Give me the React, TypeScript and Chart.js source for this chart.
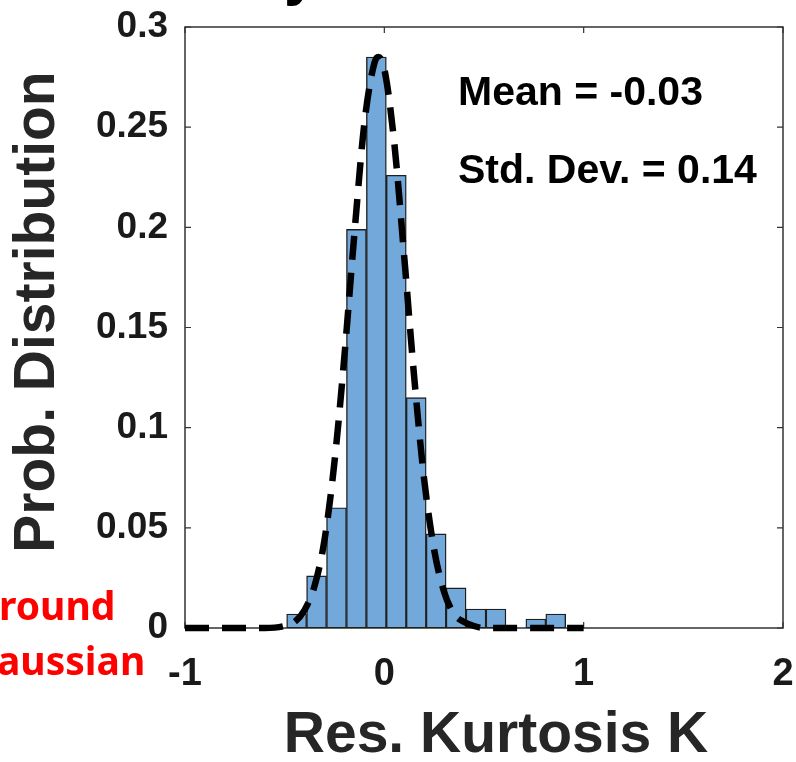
import React, { useEffect, useRef } from 'react';
import { Chart, registerables } from 'chart.js';

Chart.register(...registerables);

// Histogram bins (centres of 0.1-wide bins) and their probability heights
const binCenters = [-0.44, -0.34, -0.24, -0.14, -0.04, 0.06, 0.16, 0.26, 0.36, 0.46, 0.56, 0.76, 0.86];
const binHeights = [0.007, 0.026, 0.06, 0.199, 0.285, 0.226, 0.115, 0.047, 0.02, 0.0095, 0.0095, 0.0045, 0.007];

// Dashed Gaussian fit curve
const fitX = [-1, -0.9, -0.8, -0.7, -0.6, -0.5, -0.45, -0.4, -0.35, -0.3, -0.25, -0.2, -0.15, -0.1, -0.05, -0.03, 0, 0.05, 0.1, 0.15, 0.2, 0.25, 0.3, 0.35, 0.4, 0.45, 0.5, 0.6, 0.7, 0.8, 0.9, 1.0];
const fitY = [0, 0, 0, 0, 0, 0.001, 0.003, 0.009, 0.021, 0.044, 0.083, 0.136, 0.197, 0.252, 0.282, 0.285, 0.279, 0.242, 0.185, 0.125, 0.074, 0.039, 0.018, 0.007, 0.003, 0.001, 0, 0, 0, 0, 0, 0];

// Axis ticks
const xTickValues = [-1, 0, 1, 2];
const xTickLabels = ['-1', '0', '1', '2'];
const yTickValues = [0, 0.05, 0.1, 0.15, 0.2, 0.25, 0.3];
const yTickLabels = ['0', '0.05', '0.1', '0.15', '0.2', '0.25', '0.3'];

// Texts
const xTitle = 'Res. Kurtosis K';
const yTitle = 'Prob. Distribution';
const statLines = ['Mean = -0.03', 'Std. Dev. = 0.14'];
const sideNote = ['round', 'aussian'];
const titleFragment = 'y';

const FONT = "'Liberation Sans', Arial, Helvetica, sans-serif";
const AXIS_COLOR = '#333333';
const TEXT_COLOR = '#1a1a1a';

const decorPlugin = {
  id: 'decor',
  beforeDatasetsDraw(chart: any) {
    const { ctx, chartArea } = chart;
    const { left, right, top, bottom } = chartArea;
    const xs = chart.scales.x;
    const ys = chart.scales.y;
    ctx.save();
    ctx.strokeStyle = AXIS_COLOR;
    ctx.lineWidth = 1.5;
    ctx.strokeRect(left, top, right - left, bottom - top);
    ctx.lineWidth = 1.2;
    const tl = 6;
    ctx.beginPath();
    xTickValues.forEach((v) => {
      const px = xs.getPixelForValue(v);
      ctx.moveTo(px, bottom);
      ctx.lineTo(px, bottom - tl);
      ctx.moveTo(px, top);
      ctx.lineTo(px, top + tl);
    });
    yTickValues.forEach((v) => {
      const py = ys.getPixelForValue(v);
      ctx.moveTo(left, py);
      ctx.lineTo(left + tl, py);
      ctx.moveTo(right, py);
      ctx.lineTo(right - tl, py);
    });
    ctx.stroke();
    ctx.restore();
  },
  afterDraw(chart: any) {
    const { ctx, chartArea } = chart;
    const { left, top, bottom } = chartArea;
    ctx.save();
    // stats annotation
    ctx.fillStyle = '#000000';
    ctx.font = `bold 41px ${FONT}`;
    ctx.textAlign = 'left';
    ctx.textBaseline = 'alphabetic';
    ctx.fillText(statLines[0], left + 273, top + 78);
    ctx.fillText(statLines[1], left + 273, top + 156);

    // axis titles
    ctx.fillStyle = '#262626';
    ctx.font = `bold 57px ${FONT}`;
    ctx.textAlign = 'center';
    ctx.textBaseline = 'middle';
    ctx.fillText(xTitle, 496, 736);
    ctx.save();
    ctx.translate(38, 312);
    ctx.rotate(-Math.PI / 2);
    ctx.fillText(yTitle, 0, 0);
    ctx.restore();

    // cropped title fragment at the top
    ctx.fillStyle = '#000000';
    ctx.font = `bold 60px ${FONT}`;
    ctx.textAlign = 'left';
    ctx.textBaseline = 'alphabetic';
    ctx.fillText(titleFragment, 284, -6);

    // red side note (cropped)
    ctx.fillStyle = '#ff0000';
    ctx.font = `bold 39px 'Noto Sans', 'Open Sans', sans-serif`;
    ctx.textAlign = 'left';
    ctx.fillText(sideNote[0], -1, bottom - 8);
    ctx.fillText(sideNote[1], -3, bottom + 47);
    ctx.restore();
  },
};

export default function App() {
  const canvasRef = useRef<HTMLCanvasElement | null>(null);

  useEffect(() => {
    const canvas = canvasRef.current;
    if (!canvas) return;
    const chart = new Chart(canvas, {
      type: 'bar',
      data: {
        datasets: [
          {
            type: 'line',
            data: fitX.map((x, i) => ({ x, y: fitY[i] })),
            borderColor: '#000000',
            borderWidth: 6.5,
            borderDash: [24, 13],
            borderCapStyle: 'butt',
            pointRadius: 0,
            fill: false,
            cubicInterpolationMode: 'monotone',
            clip: false,
            order: 0,
          } as any,
          {
            type: 'bar',
            data: binCenters.map((x, i) => ({ x, y: binHeights[i] })),
            backgroundColor: '#72A9DA',
            borderColor: '#1f1f1f',
            borderWidth: 1.4,
            borderSkipped: false,
            barPercentage: 1,
            categoryPercentage: 1,
            order: 1,
          } as any,
        ],
      },
      options: {
        responsive: false,
        maintainAspectRatio: false,
        animation: false,
        devicePixelRatio: 1,
        layout: { padding: { top: 27, right: 13, left: 0, bottom: 0 } },
        plugins: {
          legend: { display: false },
          tooltip: { enabled: false },
          title: { display: false },
        },
        scales: {
          x: {
            type: 'linear',
            offset: false,
            min: -1,
            max: 2,
            afterBuildTicks: (s: any) => {
              s.ticks = xTickValues.map((v) => ({ value: v }));
            },
            afterFit: (s: any) => {
              s.height = 134;
              s.paddingLeft = 0;
              s.paddingRight = 0;
            },
            ticks: {
              autoSkip: false,
              maxRotation: 0,
              padding: 24,
              color: TEXT_COLOR,
              font: { family: FONT, size: 38, weight: 'bold' },
              callback: (_v: any, i: number) => xTickLabels[i],
            },
            grid: { display: false, drawTicks: false, offset: false },
            border: { display: false },
          },
          y: {
            type: 'linear',
            min: 0,
            max: 0.3,
            afterBuildTicks: (s: any) => {
              s.ticks = yTickValues.map((v) => ({ value: v }));
            },
            afterFit: (s: any) => {
              s.width = 185;
              s.paddingTop = 0;
              s.paddingBottom = 0;
            },
            ticks: {
              autoSkip: false,
              padding: 17,
              color: TEXT_COLOR,
              font: { family: FONT, size: 37, weight: 'bold' },
              callback: (_v: any, i: number) => yTickLabels[i],
            },
            grid: { display: false, drawTicks: false },
            border: { display: false },
          },
        },
      } as any,
      plugins: [decorPlugin],
    });
    return () => chart.destroy();
  }, []);

  return (
    <div style={{ position: 'absolute', left: 0, top: 0, width: 796, height: 762, background: '#ffffff' }}>
      <canvas ref={canvasRef} width={796} height={762} style={{ display: 'block', width: 796, height: 762 }} />
    </div>
  );
}
